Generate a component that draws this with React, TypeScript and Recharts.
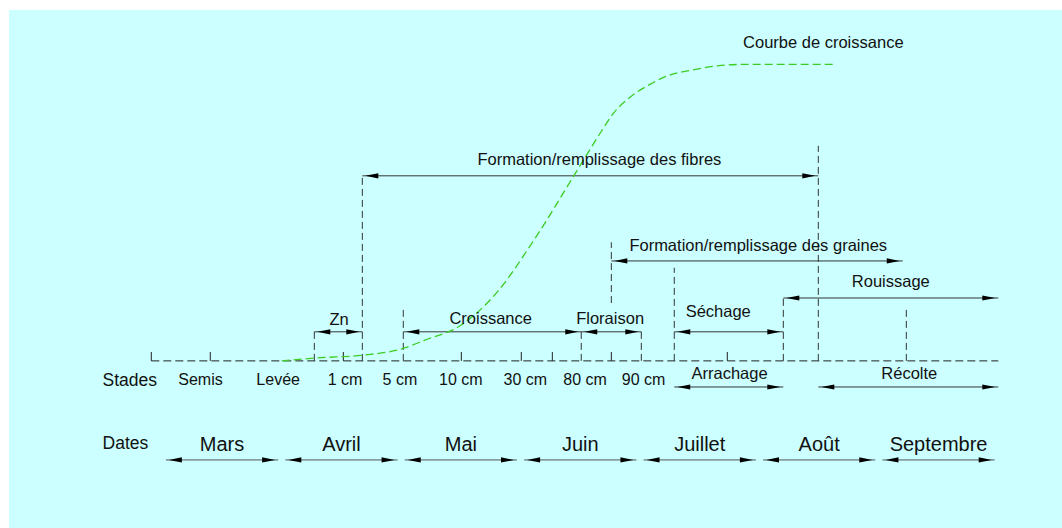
import React from "react";
import { ComposedChart, XAxis, YAxis, Line, Scatter, ReferenceLine } from "recharts";

// x = months since start of March, y = % of final growth (0 = stades baseline)
const months = ["Mars", "Avril", "Mai", "Juin", "Juillet", "Août", "Septembre"];

const growthT = [1.0, 1.3, 1.7, 2.0, 2.2, 2.5, 2.8, 3.1, 3.47, 3.6, 3.67, 3.78, 3.92, 4.09, 4.28, 4.4, 4.65, 4.9, 5.62];
const growthPct = [0, 1, 2, 4, 7, 12, 23, 40, 64, 72.5, 77, 83.6, 89, 93.4, 96.8, 97.8, 99.5, 100, 100];

const stadeNames = ["Semis", "Levée", "1 cm", "5 cm", "10 cm", "30 cm", "80 cm", "90 cm"];
const stadeAt = [0.32, 0.97, 1.53, 1.99, 2.5, 3.04, 3.54, 4.03];
const stadeTicks = [-0.092, 0.402, 1.516, 2.504, 3.006, 3.266, 3.76, 4.731];

const phaseNames = [
  "Zn",
  "Croissance",
  "Floraison",
  "Séchage",
  "Rouissage",
  "Formation/remplissage des graines",
  "Formation/remplissage des fibres",
  "Arrachage",
  "Récolte",
];
const phaseFrom = [1.273, 2.018, 3.508, 4.287, 5.2, 3.76, 1.675, 4.287, 5.493];
const phaseTo = [1.675, 3.508, 4.011, 5.2, 7.0, 6.2, 5.493, 5.2, 7.0];
const phaseLevel = [9.8, 9.8, 9.8, 9.8, 21.2, 33.7, 62.4, -8.8, -8.8];
const phaseLabelAt = [1.48, 2.75, 3.75, 4.655, 6.1, 4.99, 3.66, 4.75, 6.255];
const phaseLabelLevel = [14.2, 14.5, 14.5, 16.9, 27, 39, 68, -4, -4];

// dashed guide lines: position, top, bottom
const guideAt = [1.273, 1.675, 2.018, 3.508, 3.76, 4.011, 4.287, 5.2, 5.493, 6.23];
const guideTop = [9.8, 62.7, 18.2, 9.8, 40, 9.8, 31.4, 21.2, 72.5, 18.2];
const guideBottom = [0, 0, 0, 0, 19.5, 0, 0, 0, 0, 0];

const stadesRow = -6.4;
const datesRow = -28;
const monthArrowRow = -33.4;
const rowTitleAt = -0.5;
const curveTitle = { t: 5.535, y: 107.5, label: "Courbe de croissance" };

const FONT = "'Liberation Sans', Arial, sans-serif";

const growthData = growthT.map((t, i) => ({ t, y: growthPct[i] }));
const stadeData = stadeNames.map((label, i) => ({ t: stadeAt[i], y: stadesRow, label }));
const phaseData = phaseNames.map((label, i) => ({ t: phaseLabelAt[i], y: phaseLabelLevel[i], label }));
const monthData = months.map((label, i) => ({ t: i + 0.5, y: datesRow, label }));
const titleData = [
  { t: rowTitleAt, y: stadesRow, label: "Stades" },
  { t: rowTitleAt, y: datesRow + 0.3, label: "Dates" },
];

const textShape = (size: number, anchor: "start" | "middle") => (p: any) =>
  (
    <text
      x={p.cx}
      y={p.cy}
      fontSize={size}
      fontFamily={FONT}
      textAnchor={anchor}
      dominantBaseline="central"
      fill="#111"
    >
      {p.payload.label}
    </text>
  );

const arrowShape = (color: string) => (p: any) => {
  const a = Math.min(p.x1, p.x2);
  const b = Math.max(p.x1, p.x2);
  const y = p.y1;
  const L = 13;
  const W = 2.6;
  const k = 3;
  return (
    <g>
      <line x1={a} y1={y} x2={b} y2={y} stroke={color} strokeWidth={1} />
      <polygon points={`${a + k},${y} ${a + k + L},${y - W} ${a + k + L},${y + W}`} fill="#000" />
      <polygon points={`${b - k},${y} ${b - k - L},${y - W} ${b - k - L},${y + W}`} fill="#000" />
    </g>
  );
};

export default function App() {
  return (
    <div style={{ position: "absolute", left: 0, top: 0, width: 1062, height: 528, background: "#fff" }}>
      <div style={{ position: "absolute", left: 9, top: 10, right: 0, bottom: 0, background: "#ccffff" }} />
      <div style={{ position: "absolute", left: 0, top: 0 }}>
        <ComposedChart width={1062} height={528} margin={{ top: 5, right: 4, bottom: 4, left: 13 }}>
          <XAxis type="number" dataKey="t" domain={[-1.25, 7.5]} hide allowDataOverflow />
          <YAxis type="number" domain={[-55, 120]} hide allowDataOverflow />

          {/* stades baseline */}
          <ReferenceLine
            segment={[{ x: -0.092, y: 0 }, { x: 7.0, y: 0 }]}
            stroke="#222"
            strokeDasharray="8 4"
            ifOverflow="visible"
          />
          {stadeTicks.map((t, i) => (
            <ReferenceLine key={"tk" + i} segment={[{ x: t, y: 0 }, { x: t, y: 3 }]} stroke="#222" ifOverflow="visible" />
          ))}
          {guideAt.map((t, i) => (
            <ReferenceLine
              key={"gd" + i}
              segment={[{ x: t, y: guideBottom[i] }, { x: t, y: guideTop[i] }]}
              stroke="#333"
              strokeDasharray="7 4"
              ifOverflow="visible"
            />
          ))}
          {phaseNames.map((n, i) => (
            <ReferenceLine
              key={"ph" + i}
              segment={[{ x: phaseFrom[i], y: phaseLevel[i] }, { x: phaseTo[i], y: phaseLevel[i] }]}
              shape={arrowShape("#333")}
              ifOverflow="visible"
            />
          ))}
          {months.map((m, i) => (
            <ReferenceLine
              key={"mo" + i}
              segment={[{ x: i + 0.03, y: monthArrowRow }, { x: i + 0.97, y: monthArrowRow }]}
              shape={arrowShape("#555")}
              ifOverflow="visible"
            />
          ))}

          <Line
            data={growthData}
            dataKey="y"
            type="monotone"
            stroke="#3ccc22"
            strokeWidth={1.3}
            strokeDasharray="8 4"
            dot={false}
            activeDot={false}
            isAnimationActive={false}
          />

          <Scatter data={stadeData} dataKey="y" shape={textShape(16, "middle")} isAnimationActive={false} />
          <Scatter data={phaseData} dataKey="y" shape={textShape(16.5, "middle")} isAnimationActive={false} />
          <Scatter data={monthData} dataKey="y" shape={textShape(20, "middle")} isAnimationActive={false} />
          <Scatter data={titleData} dataKey="y" shape={textShape(17.5, "start")} isAnimationActive={false} />
          <Scatter data={[curveTitle]} dataKey="y" shape={textShape(16.5, "middle")} isAnimationActive={false} />
        </ComposedChart>
      </div>
    </div>
  );
}
